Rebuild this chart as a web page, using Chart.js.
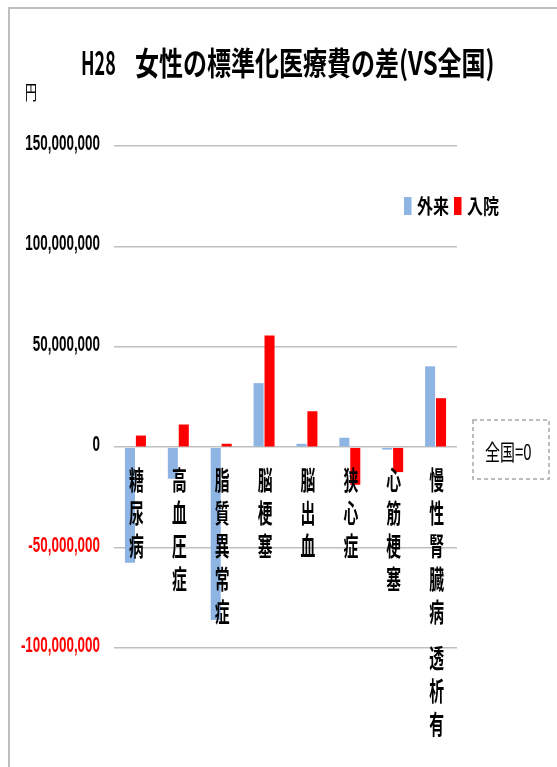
<!DOCTYPE html>
<html lang="ja">
<head>
<meta charset="utf-8">
<title>H28 女性の標準化医療費の差（VS全国）</title>
<script src="https://cdn.jsdelivr.net/npm/chart.js@4/dist/chart.umd.min.js"></script>
<style>
  html, body { margin: 0; padding: 0; background: #ffffff; overflow: hidden; }
  #wrap { width: 557px; height: 767px; }
</style>
</head>
<body>
<div id="wrap"><canvas id="chart" width="557" height="767"></canvas></div>
<script>
// 疾病区分
const categories = ['糖尿病', '高血圧症', '脂質異常症', '脳梗塞', '脳出血', '狭心症', '心筋梗塞', '慢性腎臓病 透析有'];
// 全国との差（円）
const outpatient = [-57600000, -15700000, -86000000, 31900000, 1700000, 4700000, -1200000, 40300000];
const inpatient  = [5800000, 11300000, 1700000, 55600000, 17900000, -18700000, -12400000, 24400000];
// 目盛
const yTicks = [-100000000, -50000000, 0, 50000000, 100000000, 150000000];
const seriesNames = ['外来', '入院'];
const titleYear = 'H28';
const titleText = '女性の標準化医療費の差(VS全国)';
const unitText = '円';
const noteText = '全国=0';

const CJK = '"Noto Sans CJK JP", "Noto Sans CJK SC", sans-serif';
const LATIN = '"Liberation Sans", Arial, sans-serif';

// 横方向に詰めた文字を描く
function drawNarrow(ctx, text, x, y, font, color, sx, align, baseline) {
  ctx.save();
  ctx.font = font;
  ctx.fillStyle = color;
  ctx.textAlign = align || 'left';
  ctx.textBaseline = baseline || 'middle';
  ctx.translate(x, y);
  ctx.scale(sx, 1);
  ctx.fillText(text, 0, 0);
  ctx.restore();
}

const decorations = {
  id: 'decorations',
  beforeDraw(chart) {
    const ctx = chart.ctx;
    ctx.save();
    ctx.fillStyle = '#ffffff';
    ctx.fillRect(0, 0, chart.width, chart.height);
    // 外枠
    ctx.strokeStyle = '#bfbfbf';
    ctx.lineWidth = 2;
    ctx.strokeRect(9, 8, chart.width + 20, chart.height + 20);
    ctx.restore();
  },
  afterDraw(chart) {
    const ctx = chart.ctx;
    const xs = chart.scales.x;
    const ys = chart.scales.y;

    // タイトル・単位
    drawNarrow(ctx, titleYear, 81, 63, 'bold 32px ' + CJK, '#000000', 0.56, 'left', 'middle');
    drawNarrow(ctx, titleText, 135, 63, 'bold 32px ' + CJK, '#000000', 0.75, 'left', 'middle');
    drawNarrow(ctx, unitText, 31, 92, '20px ' + CJK, '#000000', 0.6, 'center', 'middle');

    // 縦軸の目盛ラベル
    ys.ticks.forEach(t => {
      const y = ys.getPixelForValue(t.value);
      const color = t.value < 0 ? '#ff0000' : '#000000';
      drawNarrow(ctx, t.value.toLocaleString('en-US'), 100, y - 2, 'bold 22px ' + LATIN, color, 0.61, 'right', 'middle');
    });

    // 項目ラベル（縦書き、0の線の下）
    const y0 = ys.getPixelForValue(0);
    categories.forEach((label, i) => {
      const x = xs.getPixelForValue(i);
      let y = y0 + 33;
      for (const ch of label) {
        if (ch === ' ') { y += 13; continue; }
        drawNarrow(ctx, ch, x + 1, y, 'bold 26px ' + CJK, '#000000', 0.57, 'center', 'middle');
        y += 33;
      }
    });

    // 凡例
    const ds = chart.data.datasets;
    const legendItems = [
      { box: 404, text: 417, color: ds[0].backgroundColor, label: ds[0].label },
      { box: 454, text: 467, color: ds[1].backgroundColor, label: ds[1].label }
    ];
    legendItems.forEach(it => {
      ctx.fillStyle = it.color;
      ctx.fillRect(it.box, 197, 7.5, 18);
      drawNarrow(ctx, it.label, it.text, 206.5, 'bold 20px ' + CJK, '#000000', 0.8, 'left', 'middle');
    });

    // 注記ボックス
    ctx.save();
    ctx.strokeStyle = '#a6a6a6';
    ctx.lineWidth = 1.5;
    ctx.setLineDash([4, 3]);
    ctx.strokeRect(473, 420, 76, 59);
    ctx.restore();
    drawNarrow(ctx, noteText, 485, 452, '22px ' + CJK, '#000000', 0.68, 'left', 'middle');
  }
};

new Chart(document.getElementById('chart'), {
  type: 'bar',
  data: {
    labels: categories,
    datasets: [
      { label: seriesNames[0], data: outpatient, backgroundColor: '#8eb4e3', borderWidth: 0 },
      { label: seriesNames[1], data: inpatient, backgroundColor: '#ff0000', borderWidth: 0 }
    ]
  },
  options: {
    responsive: false,
    animation: false,
    events: [],
    layout: { padding: { left: 114, right: 100, top: 146, bottom: 119 } },
    datasets: { bar: { categoryPercentage: 0.51, barPercentage: 0.92 } },
    plugins: {
      legend: { display: false },
      title: { display: false },
      tooltip: { enabled: false }
    },
    scales: {
      x: {
        grid: { display: false },
        border: { display: false },
        ticks: { display: false },
        afterFit(s) { s.height = 0; }
      },
      y: {
        min: yTicks[0],
        max: yTicks[yTicks.length - 1],
        afterBuildTicks(s) { s.ticks = yTicks.map(v => ({ value: v })); },
        grid: { color: '#bfbfbf', lineWidth: 1.5, drawTicks: false },
        border: { display: false },
        ticks: { display: false },
        afterFit(s) { s.width = 0; }
      }
    }
  },
  plugins: [decorations]
});
</script>
</body>
</html>
